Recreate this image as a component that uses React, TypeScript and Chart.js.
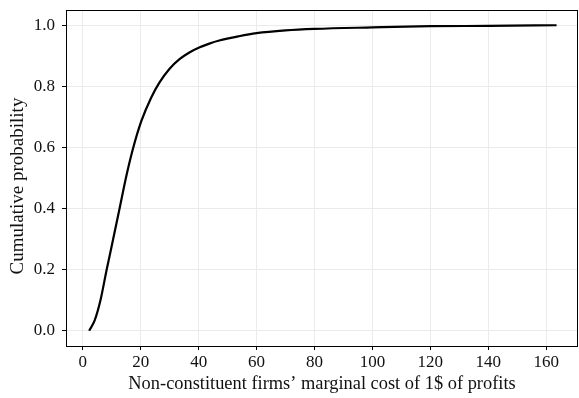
import React, { useEffect, useRef } from "react";
import { Chart, registerables } from "chart.js";

Chart.register(...registerables);

const costX = [2.2, 4.1, 6.1, 8.2, 10.4, 12.7, 15.0, 17.3, 20.2, 23.6, 26.5, 29.9, 33.4, 36.8, 40.2, 43.7, 47.1, 53.9, 60, 70, 80, 100, 120, 140, 163.6];
const cumProb = [0.0, 0.034, 0.1, 0.198, 0.296, 0.4, 0.505, 0.595, 0.686, 0.763, 0.813, 0.857, 0.889, 0.911, 0.927, 0.94, 0.95, 0.964, 0.974, 0.983, 0.988, 0.993, 0.997, 0.998, 1.0];
const xTicks = [0, 20, 40, 60, 80, 100, 120, 140, 160];
const yTicks = [0.0, 0.2, 0.4, 0.6, 0.8, 1.0];
const xTitle = "Non-constituent firms\u2019 marginal cost of 1$ of profits";
const yTitle = "Cumulative probability";

const FONT = "'Liberation Serif', 'DejaVu Serif', serif";
const GRID = "#ebebeb";
const TEXT = "#111";

const framePlugin = {
  id: "frame",
  afterDraw(chart: any) {
    const { ctx, chartArea } = chart;
    ctx.save();
    ctx.strokeStyle = "#000";
    ctx.lineWidth = 1;
    ctx.strokeRect(
      Math.round(chartArea.left) + 0.5,
      Math.round(chartArea.top) + 0.5,
      Math.round(chartArea.right - chartArea.left) - 1,
      Math.round(chartArea.bottom - chartArea.top)
    );
    // y axis title
    ctx.translate(18.5, (chartArea.top + chartArea.bottom) / 2 + 8);
    ctx.rotate(-Math.PI / 2);
    ctx.fillStyle = TEXT;
    ctx.font = `19px ${FONT}`;
    ctx.textAlign = "center";
    ctx.textBaseline = "middle";
    ctx.fillText(yTitle, 0, 0);
    ctx.restore();
  },
};

export default function App() {
  const ref = useRef<HTMLCanvasElement | null>(null);
  useEffect(() => {
    document.body.style.margin = "0";
    const canvas = ref.current!;
    const chart = new Chart(canvas, {
      type: "line",
      data: {
        datasets: [
          {
            data: costX.map((x, i) => ({ x, y: cumProb[i] })),
            borderColor: "#000",
            borderWidth: 2.2,
            pointRadius: 0,
            cubicInterpolationMode: "monotone",
            fill: false,
          },
        ],
      },
      options: {
        animation: false,
        responsive: false,
        devicePixelRatio: 1,
        layout: { padding: { top: 10, right: 1, left: 0, bottom: 0 } },
        plugins: { legend: { display: false }, tooltip: { enabled: false } },
        scales: {
          x: {
            type: "linear",
            min: -5.8,
            max: 171,
            afterBuildTicks: (s: any) => {
              s.ticks = xTicks.map((v) => ({ value: v }));
            },
            afterFit: (s: any) => {
              s.height = 52;
              s.paddingLeft = 0;
              s.paddingRight = 0;
            },
            grid: { color: GRID, lineWidth: 1, tickColor: "#000", tickLength: 4 },
            border: { display: false },
            ticks: {
              color: TEXT,
              font: { family: FONT, size: 17 },
              padding: 2,
              maxRotation: 0,
              callback: (v: any) => String(v),
            },
            title: {
              display: true,
              text: xTitle,
              color: TEXT,
              font: { family: FONT, size: 18.4 },
              padding: { top: 2, bottom: 3 },
            },
          },
          y: {
            type: "linear",
            min: -0.05,
            max: 1.05,
            afterBuildTicks: (s: any) => {
              s.ticks = yTicks.map((v) => ({ value: v }));
            },
            afterFit: (s: any) => {
              s.width = 66;
              s.paddingTop = 0;
              s.paddingBottom = 0;
            },
            grid: { color: GRID, lineWidth: 1, tickColor: "#000", tickLength: 4 },
            border: { display: false },
            ticks: {
              color: TEXT,
              font: { family: FONT, size: 17 },
              padding: 7,
              callback: (v: any) => Number(v).toFixed(1),
            },
            title: { display: false },
          },
        },
      },
      plugins: [framePlugin],
    });
    return () => chart.destroy();
  }, []);
  return (
    <div style={{ width: 579, height: 398 }}>
      <canvas ref={ref} width={579} height={398} style={{ display: "block" }} />
    </div>
  );
}
